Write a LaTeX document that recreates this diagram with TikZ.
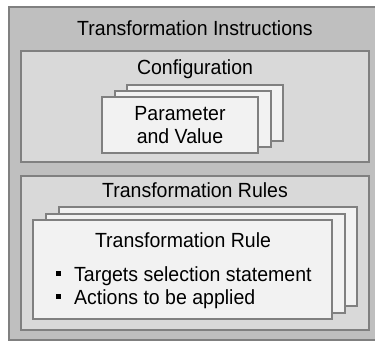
\documentclass[tikz,border=0pt]{standalone}
\usepackage{fontspec}
\setmainfont{Liberation Sans}
\definecolor{bordergray}{RGB}{128,128,128}
\definecolor{outerfill}{RGB}{191,191,191}
\definecolor{midfill}{RGB}{217,217,217}
\definecolor{cardfill}{RGB}{242,242,242}
\begin{document}
\begin{tikzpicture}[x=1pt,y=-1pt,
  box/.style={draw=bordergray,line width=2pt},
  lbl/.style={font=\fontsize{19.5}{19.5}\selectfont,anchor=base,inner sep=0pt,yscale=1.05},
  bul/.style={fill=black,minimum size=5pt,inner sep=0pt}]
\useasboundingbox (0,0) rectangle (375,343);
\begin{scope}
\clip (0,0) rectangle (375,343);
\draw[box,fill=outerfill] (9,7) rectangle (385,340);
\end{scope}
\draw[box,fill=midfill] (21,51) rectangle (369,162);
\draw[box,fill=midfill] (21,176) rectangle (369,330);
% parameter cards
\draw[box,fill=cardfill] (127,85) rectangle (283,141);
\draw[box,fill=cardfill] (114.5,91) rectangle (270.5,147);
\draw[box,fill=cardfill] (102,97) rectangle (258,153);
% rule cards
\draw[box,fill=cardfill] (59,207) rectangle (357,306);
\draw[box,fill=cardfill] (46,213.5) rectangle (344.5,312.5);
\draw[box,fill=cardfill] (33,220) rectangle (332,319);
% texts
\node[lbl] (t1) at (195,35) {Transformation Instructions};
\node[lbl] (t2) at (195,74) {Configuration};
\node[lbl] (t3) at (180,120) {Parameter};
\node[lbl] (t4) at (180,143) {and Value};
\node[lbl] (t5) at (195,197) {Transformation Rules};
\node[lbl] (t6) at (183,247) {Transformation Rule};
\node[bul] (b1) at (58,273.5) {};
\node[bul] (b2) at (58,296.5) {};
\node[lbl,anchor=base west] (t7) at (74,281) {Targets selection statement};
\node[lbl,anchor=base west] (t8) at (74,304) {Actions to be applied};
\end{tikzpicture}
\end{document}
